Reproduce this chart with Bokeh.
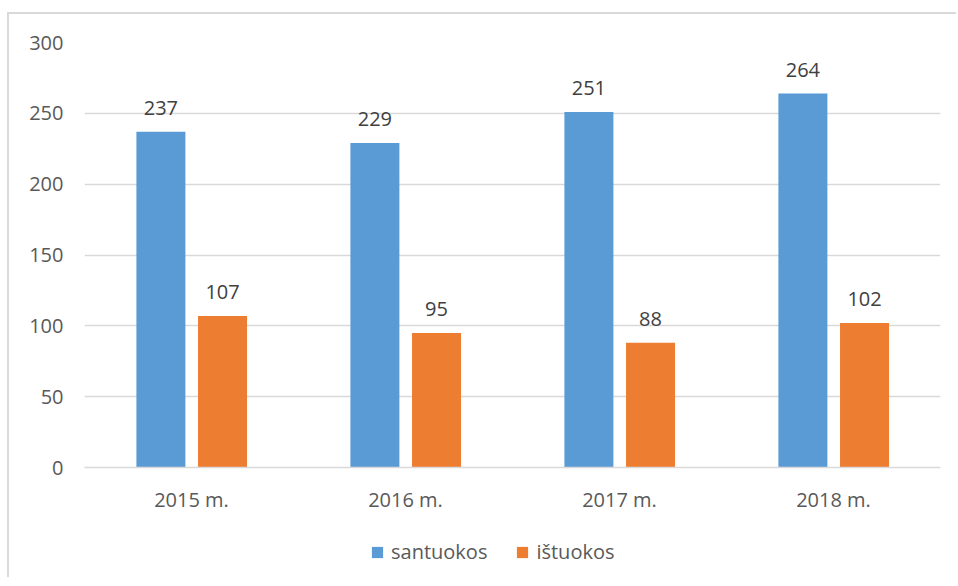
from bokeh.plotting import figure
from bokeh.models import ColumnDataSource, FactorRange, LabelSet, Legend, LegendItem, FixedTicker, Range1d
from bokeh.layouts import column
from bokeh.transform import dodge
from bokeh.core.properties import value
from bokeh.embed import file_html
from bokeh.resources import INLINE

years = ["2015 m.", "2016 m.", "2017 m.", "2018 m."]
santuokos = [237, 229, 251, 264]
istuokos = [107, 95, 88, 102]
y_ticks = [0, 50, 100, 150, 200, 250, 300]
series_names = ["santuokos", "ištuokos"]

BLUE = "#5B9BD5"
ORANGE = "#ED7D31"
FONT = "Open Sans"
LINE = "linear-gradient(#D9D9D9,#D9D9D9)"

src = ColumnDataSource(dict(
    years=years, s=santuokos, i=istuokos,
    s_txt=[str(v) for v in santuokos], i_txt=[str(v) for v in istuokos],
))

p = figure(x_range=FactorRange(*years, range_padding=0), y_range=(0, 300),
           width=956, height=527, output_backend="svg", toolbar_location=None,
           min_border_left=84, min_border_right=16, min_border_top=42, min_border_bottom=60)
p.border_fill_alpha = 0
p.background_fill_color = "white"
p.styles = {"background": f"{LINE} 7px 12px / 100% 2px no-repeat, {LINE} 7px 12px / 2px 100% no-repeat, white"}
p.outline_line_color = None

p.vbar(x=dodge("years", -0.143, range=p.x_range), top="s", width=0.229, source=src,
       fill_color=BLUE, line_color=None)
p.vbar(x=dodge("years", 0.145, range=p.x_range), top="i", width=0.229, source=src,
       fill_color=ORANGE, line_color=None)

for col, txt, off in (("s", "s_txt", -0.143), ("i", "i_txt", 0.145)):
    p.add_layout(LabelSet(x=dodge("years", off, range=p.x_range), y=col, text=txt, source=src,
                          text_align="center", text_baseline="alphabetic", y_offset=17,
                          text_font=value(FONT), text_font_size="20px", text_color="#404040"))

p.yaxis.ticker = FixedTicker(ticks=y_ticks)
p.yaxis.axis_line_color = None
p.yaxis.major_tick_line_color = None
p.yaxis.minor_tick_line_color = None
p.yaxis.major_label_standoff = 15
p.yaxis.major_label_text_font = FONT
p.yaxis.major_label_text_font_size = "20px"
p.yaxis.major_label_text_color = "#595959"

p.xaxis.axis_line_color = "#D9D9D9"
p.xaxis.axis_line_width = 1.5
p.xaxis.major_tick_line_color = None
p.xaxis.minor_tick_line_color = None
p.xaxis.major_label_standoff = 12
p.xaxis.major_label_text_font = FONT
p.xaxis.major_label_text_font_size = "20px"
p.xaxis.major_label_text_color = "#595959"

p.xgrid.grid_line_color = None
p.ygrid.grid_line_color = "#D9D9D9"
p.ygrid.grid_line_width = 1.5

# legend strip below the chart
p2 = figure(width=956, height=50, output_backend="svg", toolbar_location=None,
            x_range=Range1d(0, 1), y_range=Range1d(0, 1),
            x_axis_type=None, y_axis_type=None,
            min_border_left=0, min_border_right=0, min_border_top=0, min_border_bottom=0)
p2.border_fill_alpha = 0
p2.background_fill_alpha = 0
p2.outline_line_color = None
p2.xgrid.grid_line_color = None
p2.ygrid.grid_line_color = None
p2.styles = {"background": f"{LINE} 7px 0px / 2px 100% no-repeat, white"}
proxy = ColumnDataSource(dict(x=[0], top=[0]))
g1 = p2.vbar(x="x", top="top", width=0, source=proxy, fill_color=BLUE, line_color=None)
g2 = p2.vbar(x="x", top="top", width=0, source=proxy, fill_color=ORANGE, line_color=None)

legend = Legend(items=[LegendItem(label=series_names[0], renderers=[g1]),
                       LegendItem(label=series_names[1], renderers=[g2])],
                orientation="horizontal", location=(286, 12),
                glyph_width=14, glyph_height=14, label_standoff=7, spacing=28,
                padding=0, margin=0, border_line_color=None, background_fill_alpha=0,
                label_text_font=FONT, label_text_font_size="20px", label_text_color="#595959")
p2.add_layout(legend, "center")

layout = column(p, p2, spacing=0)
open("out.html", "w").write(file_html(layout, INLINE))
